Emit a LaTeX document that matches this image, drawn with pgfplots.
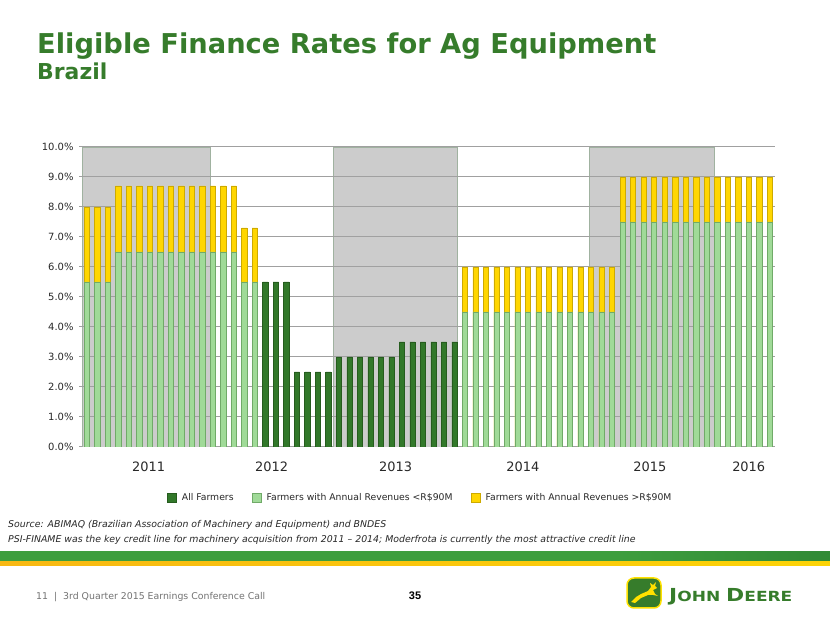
\documentclass[border=0pt]{standalone}
\usepackage{fontspec}
\setmainfont{DejaVu Sans}
\newfontfamily\arialfont{Liberation Sans}
\usepackage{graphicx}
\usepackage{pgfplots}
\pgfplotsset{compat=1.18}

\definecolor{jdgreen}{RGB}{54,124,43}
\definecolor{darkbar}{RGB}{50,120,42}
\definecolor{darkbarb}{RGB}{38,92,30}
\definecolor{lightbar}{RGB}{160,218,152}
\definecolor{lightbarb}{RGB}{112,170,104}
\definecolor{yelbar}{RGB}{255,214,0}
\definecolor{yelbarb}{RGB}{205,170,0}
\definecolor{shadec}{RGB}{204,204,204}
\definecolor{shadeb}{RGB}{160,178,160}
\definecolor{gridc}{RGB}{160,160,160}
\definecolor{bandA}{RGB}{62,158,62}
\definecolor{bandB}{RGB}{22,98,36}
\definecolor{yelA}{RGB}{245,170,25}
\definecolor{yelB}{RGB}{255,225,0}
\definecolor{txt}{RGB}{40,40,40}

\pgfdeclarehorizontalshading{bandsh}{100bp}{color(0bp)=(bandA); color(62bp)=(bandA); color(100bp)=(bandB)}
\pgfdeclarehorizontalshading{yelsh}{100bp}{color(0bp)=(yelA); color(100bp)=(yelB)}

% rate for farmers with annual revenues > R$90M
\pgfplotstableread{
x y
0 8.0
1 8.0
2 8.0
3 8.7
4 8.7
5 8.7
6 8.7
7 8.7
8 8.7
9 8.7
10 8.7
11 8.7
12 8.7
13 8.7
14 8.7
15 7.3
16 7.3
36 6.0
37 6.0
38 6.0
39 6.0
40 6.0
41 6.0
42 6.0
43 6.0
44 6.0
45 6.0
46 6.0
47 6.0
48 6.0
49 6.0
50 6.0
51 9.0
52 9.0
53 9.0
54 9.0
55 9.0
56 9.0
57 9.0
58 9.0
59 9.0
60 9.0
61 9.0
62 9.0
63 9.0
64 9.0
65 9.0
}\bigfarm
% rate for farmers with annual revenues < R$90M
\pgfplotstableread{
x y
0 5.5
1 5.5
2 5.5
3 6.5
4 6.5
5 6.5
6 6.5
7 6.5
8 6.5
9 6.5
10 6.5
11 6.5
12 6.5
13 6.5
14 6.5
15 5.5
16 5.5
36 4.5
37 4.5
38 4.5
39 4.5
40 4.5
41 4.5
42 4.5
43 4.5
44 4.5
45 4.5
46 4.5
47 4.5
48 4.5
49 4.5
50 4.5
51 7.5
52 7.5
53 7.5
54 7.5
55 7.5
56 7.5
57 7.5
58 7.5
59 7.5
60 7.5
61 7.5
62 7.5
63 7.5
64 7.5
65 7.5
}\smallfarm
% rate for all farmers
\pgfplotstableread{
x y
17 5.5
18 5.5
19 5.5
20 2.5
21 2.5
22 2.5
23 2.5
24 3.0
25 3.0
26 3.0
27 3.0
28 3.0
29 3.0
30 3.5
31 3.5
32 3.5
33 3.5
34 3.5
35 3.5
}\allfarm

\begin{document}
\begin{tikzpicture}
\useasboundingbox (0bp,0bp) rectangle (830bp,623bp);
\fill[white] (0bp,0bp) rectangle (830bp,623bp);

% title
\node[anchor=base west, inner sep=0, text=jdgreen, font=\fontsize{27.4}{30}\selectfont\bfseries] at (37bp,569bp) {Eligible Finance Rates for Ag Equipment};
\node[anchor=base west, inner sep=0, text=jdgreen, font=\fontsize{22}{26}\selectfont\bfseries] at (37bp,543bp) {Brazil};

\begin{axis}[
  at={(82bp,176bp)}, anchor=south west,
  scale only axis, width=693bp, height=300bp,
  xmin=-0.45, xmax=65.5, ymin=0, ymax=10,
  ybar, bar width=0.5,
  axis x line*=bottom, axis y line*=left,
  axis line style={draw=gridc, line width=1bp},
  ytick={0,1,...,10},
  yticklabels={0.0\%,1.0\%,2.0\%,3.0\%,4.0\%,5.0\%,6.0\%,7.0\%,8.0\%,9.0\%,10.0\%},
  yticklabel style={font=\fontsize{10}{12}\selectfont, text=txt, xshift=-2bp},
  tick align=outside, major tick length=3bp,
  ytick style={draw=gridc, line width=1bp},
  xtick={5.9,17.6,29.4,41.5,53.6,63.0},
  xticklabels={2011,2012,2013,2014,2015,2016},
  xtick style={draw=none},
  xticklabel style={font=\fontsize{13}{15}\selectfont, text=txt, yshift=-8bp},
  legend columns=3, reverse legend,
  legend style={at={(0.488,-0.17)}, anchor=center, draw=none, fill=none,
    font=\fontsize{9.3}{11}\selectfont, text=txt,
    /tikz/every even column/.append style={column sep=16bp}},
  legend image code/.code={\draw[#1, line width=0.6bp] (0bp,-4.5bp) rectangle (9bp,4.5bp); \path (12.5bp,0bp);},
]
\draw[shadeb, fill=shadec, line width=0.8bp] (axis cs:-0.45,0) rectangle (axis cs:11.73,10);
\draw[shadeb, fill=shadec, line width=0.8bp] (axis cs:23.46,0) rectangle (axis cs:35.25,10);
\draw[shadeb, fill=shadec, line width=0.8bp] (axis cs:47.79,0) rectangle (axis cs:59.71,10);
\foreach \g in {1,...,10} {
  \edef\tmp{\noexpand\draw[gridc, line width=1bp] (axis cs:-0.45,\g) -- (axis cs:65.5,\g);}\tmp
}
\addplot[bar shift=0pt, fill=yelbar, draw=yelbarb, line width=0.6bp] table[x=x,y=y] {\bigfarm};
\addlegendentry{Farmers with Annual Revenues >R\$90M}
\addplot[bar shift=0pt, fill=lightbar, draw=lightbarb, line width=0.6bp] table[x=x,y=y] {\smallfarm};
\addlegendentry{Farmers with Annual Revenues <R\$90M}
\addplot[bar shift=0pt, fill=darkbar, draw=darkbarb, line width=0.6bp] table[x=x,y=y] {\allfarm};
\addlegendentry{All Farmers}
\end{axis}

% footnotes
\node[anchor=base west, inner sep=0, text=txt, font=\fontsize{9.4}{11}\selectfont\itshape] at (8bp,95bp) {Source: ABIMAQ (Brazilian Association of Machinery and Equipment) and BNDES};
\node[anchor=base west, inner sep=0, text=txt, font=\fontsize{9.4}{11}\selectfont\itshape] at (8bp,80bp) {PSI-FINAME was the key credit line for machinery acquisition from 2011 -- 2014; Moderfrota is currently the most attractive credit line};

% band
\shade[shading=bandsh] (0bp,61bp) rectangle (830bp,71bp);
\shade[shading=yelsh] (0bp,57bp) rectangle (830bp,61bp);

% footer
\node[anchor=base west, inner sep=0, text=black!55, font=\fontsize{9.4}{11}\selectfont] at (36bp,24bp) {11 \ | \ 3rd Quarter 2015 Earnings Conference Call};
\node[anchor=base, inner sep=0, text=black, font=\arialfont\fontsize{11}{13}\selectfont\bfseries] at (415bp,24bp) {35};

% logo
\draw[yelB, fill=jdgreen, line width=1.5bp, rounded corners=7bp] (627bp,15bp) rectangle (661bp,45bp);
\fill[yelB] (631bp,21bp) -- (636bp,26bp) -- (641bp,29bp) -- (648bp,32bp) -- (651bp,36bp) -- (650bp,40bp) -- (653bp,38bp) -- (656bp,41bp) -- (655bp,37bp) -- (657bp,35bp) -- (653bp,33bp) -- (655bp,29bp) -- (658bp,27bp) -- (653bp,28bp) -- (648bp,28bp) -- (641bp,25bp) -- (635bp,20bp) -- cycle;
\node[anchor=base west, inner sep=0, text=jdgreen, font=\fontsize{18}{20}\selectfont\bfseries] at (669bp,22bp) {\scalebox{1.22}[1]{J\fontsize{14}{16}\selectfont OHN \fontsize{18}{20}\selectfont D\fontsize{14}{16}\selectfont EERE}};
\end{tikzpicture}
\end{document}
